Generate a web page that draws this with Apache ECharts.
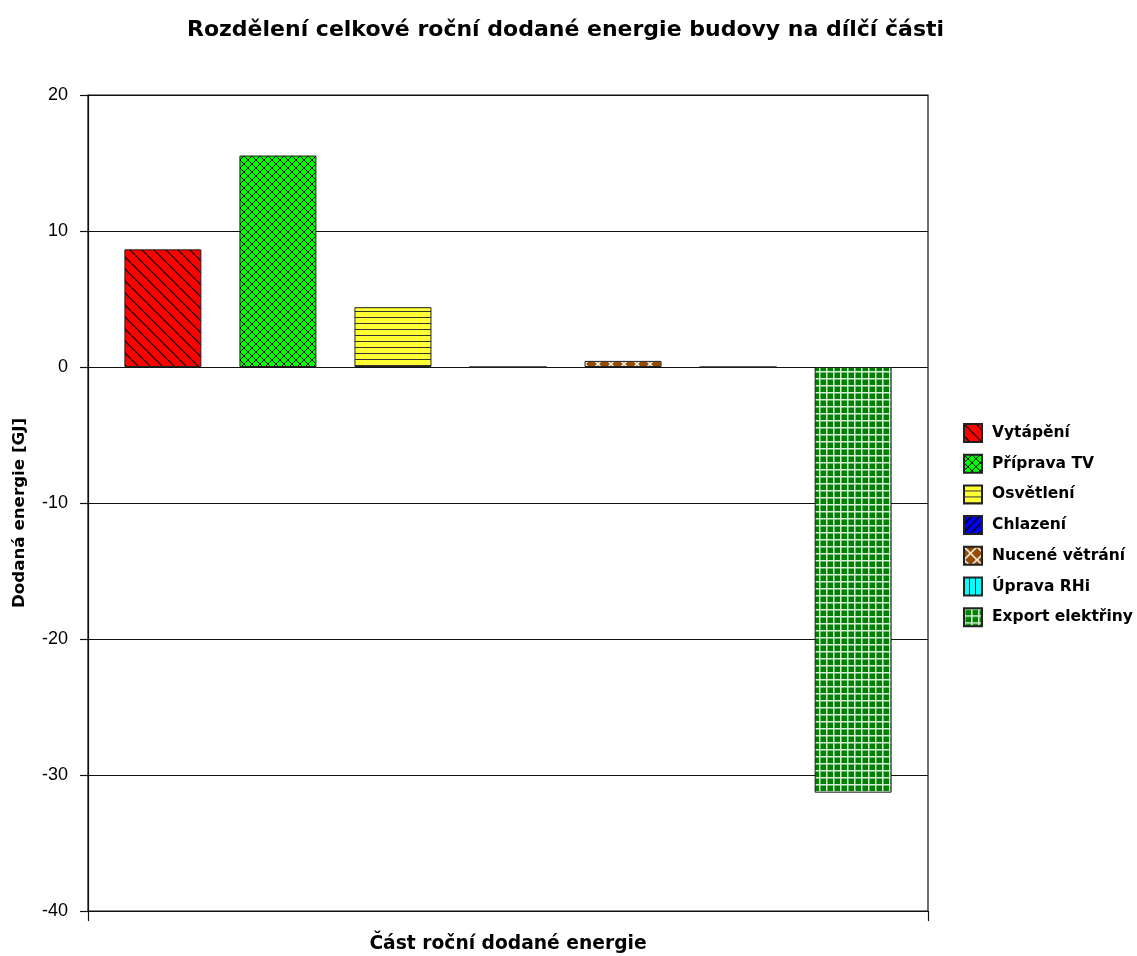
<!DOCTYPE html>
<html><head><meta charset="utf-8">
<script src="https://cdn.jsdelivr.net/npm/echarts@6/dist/echarts.min.js"></script>
<style>html,body{margin:0;padding:0;background:#fff}#c{width:1137px;height:956px}</style>
</head><body><div id="c"></div>
<script>
const titleText = 'Rozdělení celkové roční dodané energie budovy na dílčí části';
const xAxisName = 'Část roční dodané energie';
const yAxisName = 'Dodaná energie [GJ]';
const seriesNames = ['Vytápění','Příprava TV','Osvětlení','Chlazení','Nucené větrání','Úprava RHi','Export elektřiny'];
const seriesValues = [8.65, 15.55, 4.4, 0, 0.45, 0, -31.3];
const yMin = -40, yMax = 20, yStep = 10;

function pattern(bg, size, draw){
  const c = document.createElement('canvas');
  c.width = size; c.height = size;
  const g = c.getContext('2d');
  g.fillStyle = bg; g.fillRect(0,0,size,size);
  draw(g, size);
  return {image: c, repeat: 'repeat'};
}
function diagDown(g,s,col,w){ g.strokeStyle=col; g.lineWidth=w; g.beginPath();
  for(const k of [-s,0,s]){ g.moveTo(k,0); g.lineTo(k+s,s);} g.stroke(); }
function diagUp(g,s,col,w){ g.strokeStyle=col; g.lineWidth=w; g.beginPath();
  for(const k of [-s,0,s]){ g.moveTo(k,s); g.lineTo(k+s,0);} g.stroke(); }

const fills = [
  pattern('#FF0000', 12, (g,s)=>diagDown(g,s,'#000',1.2)),
  pattern('#00FF00', 8, (g,s)=>{diagDown(g,s,'#000',1); diagUp(g,s,'#000',1);}),
  pattern('#FFFF33', 6, (g,s)=>{g.fillStyle='#333'; g.fillRect(0,5,s,1.5);}),
  pattern('#0000FF', 8, (g,s)=>diagUp(g,s,'#000',1.5)),
  pattern('#964B00', 13, (g,s)=>{diagDown(g,s,'#fff',1.5); diagUp(g,s,'#fff',1.5);}),
  pattern('#00FFFF', 6, (g,s)=>{g.fillStyle='#000'; g.fillRect(5,0,1.5,s);}),
  pattern('#008000', 7, (g,s)=>{g.fillStyle='#d8f0d8'; g.fillRect(0,0,s,1.5); g.fillRect(0,0,1.5,s);})
];

const chart = echarts.init(document.getElementById('c'), null, {renderer:'canvas'});
const FONT_B = 'DejaVu Sans';
chart.setOption({
  animation: false,
  backgroundColor: '#fff',
  title: {text: titleText, left: 182, top: 14,
    textStyle: {fontFamily: FONT_B, fontWeight: 'bold', fontSize: 22, color: '#000'}},
  grid: {left: 88, right: 209, top: 95, bottom: 45, outerBoundsMode: 'none', containLabel: false,
    show: true, borderColor: '#111', borderWidth: 1.2, backgroundColor: 'transparent'},
  legend: {orient: 'vertical', left: 958, top: 418, itemWidth: 18, itemHeight: 18, itemGap: 10.7,
    icon: 'rect', data: seriesNames,
    textStyle: {fontFamily: FONT_B, fontWeight: 'bold', fontSize: 15.5, color: '#000', padding: [0,0,0,5], lineHeight: 18}},
  xAxis: {type: 'category', data: [''], boundaryGap: true,
    name: xAxisName, nameLocation: 'middle', nameGap: 24,
    nameTextStyle: {fontFamily: FONT_B, fontWeight: 'bold', fontSize: 18.7, color: '#000'},
    axisLine: {onZero: false, lineStyle: {color: '#111', width: 1.2}},
    axisTick: {show: true, length: 10, lineStyle: {color: '#111', width: 1.2}},
    axisLabel: {show: false}, splitLine: {show: false}},
  yAxis: {type: 'value', min: yMin, max: yMax, interval: yStep,
    name: yAxisName, nameLocation: 'middle', nameGap: 60,
    nameTextStyle: {fontFamily: FONT_B, fontWeight: 'bold', fontSize: 16.7, color: '#000', padding: [0, 20, 0, 0]},
    axisLine: {show: true, lineStyle: {color: '#111', width: 1.2}},
    axisTick: {show: true, length: 8, lineStyle: {color: '#111', width: 1.2}},
    axisLabel: {margin: 20, fontFamily: 'Liberation Sans', fontSize: 18, color: '#000'},
    splitLine: {show: true, lineStyle: {color: '#111', width: 1.2}}},
  series: seriesNames.map((n,i)=>({
    name: n, type: 'bar', data: [seriesValues[i]],
    barWidth: 77, barGap: '49.4%',
    itemStyle: {color: fills[i], borderColor: '#222', borderWidth: 1}
  }))
});
</script></body></html>
